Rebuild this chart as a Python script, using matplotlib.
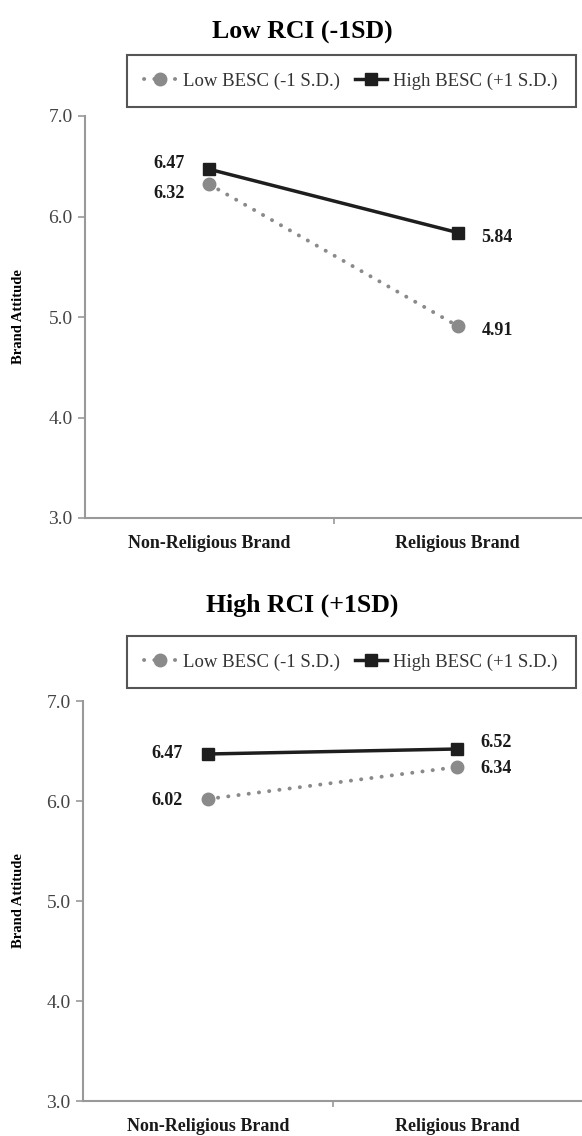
import matplotlib.pyplot as plt
import numpy as np

plt.rcParams['font.family'] = ['Liberation Serif', 'DejaVu Serif']

categories = ['Non-Religious Brand', 'Religious Brand']
panel_titles = ['Low RCI (-1SD)', 'High RCI (+1SD)']
series_names = ['Low BESC (-1 S.D.)', 'High BESC (+1 S.D.)']

# values per panel
low_rci_low_besc = [6.32, 4.91]
low_rci_high_besc = [6.47, 5.84]
high_rci_low_besc = [6.02, 6.34]
high_rci_high_besc = [6.47, 6.52]

y_ticks = [3.0, 4.0, 5.0, 6.0, 7.0]

W, H = 582, 1136
fig = plt.figure(figsize=(W / 100, H / 100), dpi=100)

def fx(px):
    return px / W

def fy(py):
    return 1 - py / H

panels = [
    dict(title=panel_titles[0], low=low_rci_low_besc, high=low_rci_high_besc,
         left=85, top=116, bottom=518, title_y=32, leg_y=81,
         nudge_low=[-6.5, -3.5], nudge_high=[4, -3.5]),
    dict(title=panel_titles[1], low=high_rci_low_besc, high=high_rci_high_besc,
         left=83, top=701, bottom=1101, title_y=605, leg_y=662,
         nudge_low=[-1, -1], nudge_high=[0, 5]),
]

x = np.arange(len(categories))

for p in panels:
    ax = fig.add_axes([fx(p['left']), fy(p['bottom']), 1 - fx(p['left']),
                       fy(p['top']) - fy(p['bottom'])])
    l1, = ax.plot(x, p['low'], color='#8a8a8a', linestyle=(0, (0.05, 2.6)), lw=2.8,
                  dash_capstyle='round', marker='o', markersize=9,
                  markeredgecolor='#8a8a8a', markerfacecolor='#8a8a8a')
    l2, = ax.plot(x, p['high'], color='#1e1e1e', lw=2.5, marker='s', markersize=8.5,
                  markeredgecolor='#1e1e1e', markerfacecolor='#1e1e1e')

    for i, (vl, vh) in enumerate(zip(p['low'], p['high'])):
        dx = -18 if i == 0 else 17
        ha = 'right' if i == 0 else 'left'
        ax.annotate(f'{vl:.2f}', (x[i], vl), xytext=(dx, p['nudge_low'][i]),
                    textcoords='offset points', ha=ha, va='center',
                    fontsize=13, fontweight='bold', color='#1a1a1a')
        ax.annotate(f'{vh:.2f}', (x[i], vh), xytext=(dx, p['nudge_high'][i]),
                    textcoords='offset points', ha=ha, va='center',
                    fontsize=13, fontweight='bold', color='#1a1a1a')

    ax.set_xlim(-0.5, 1.5)
    ax.set_ylim(3.0, 7.0)
    ax.set_yticks(y_ticks)
    ax.set_yticklabels([f'{t:.1f}' for t in y_ticks], fontsize=14, color='#444444')
    ax.set_xticks(x)
    ax.set_xticklabels(categories, fontsize=13, fontweight='bold', color='#1a1a1a')
    ax.tick_params(axis='x', which='major', length=0, pad=12)
    ax.set_xticks([0.5], minor=True)
    ax.tick_params(axis='x', which='minor', length=4, color='#999999', width=1.2)
    ax.tick_params(axis='y', length=5, color='#999999', width=1.2, pad=4)
    for s in ['top', 'right']:
        ax.spines[s].set_visible(False)
    for s in ['left', 'bottom']:
        ax.spines[s].set_color('#999999')
        ax.spines[s].set_linewidth(1.5)
    ax.set_ylabel('Brand Attitude', fontsize=10.5, fontweight='bold')
    ax.yaxis.set_label_coords((25 - p['left']) / (W - p['left']), 0.5)

    fig.text(fx(302), fy(p['title_y']), p['title'], fontsize=18.5, fontweight='bold',
             ha='center', va='center')

    leg = ax.legend([l1, l2], series_names, loc='center', ncol=2,
                    bbox_to_anchor=(fx(351), fy(p['leg_y'])),
                    bbox_transform=fig.transFigure, fontsize=13.5, handlelength=1.7,
                    handletextpad=0.35, columnspacing=0.8, borderpad=0.95,
                    borderaxespad=0, fancybox=False, framealpha=1,
                    labelcolor='#333333')
    leg.get_frame().set_edgecolor('#555555')
    leg.get_frame().set_linewidth(1.5)

fig.savefig('out.png', dpi=100)
